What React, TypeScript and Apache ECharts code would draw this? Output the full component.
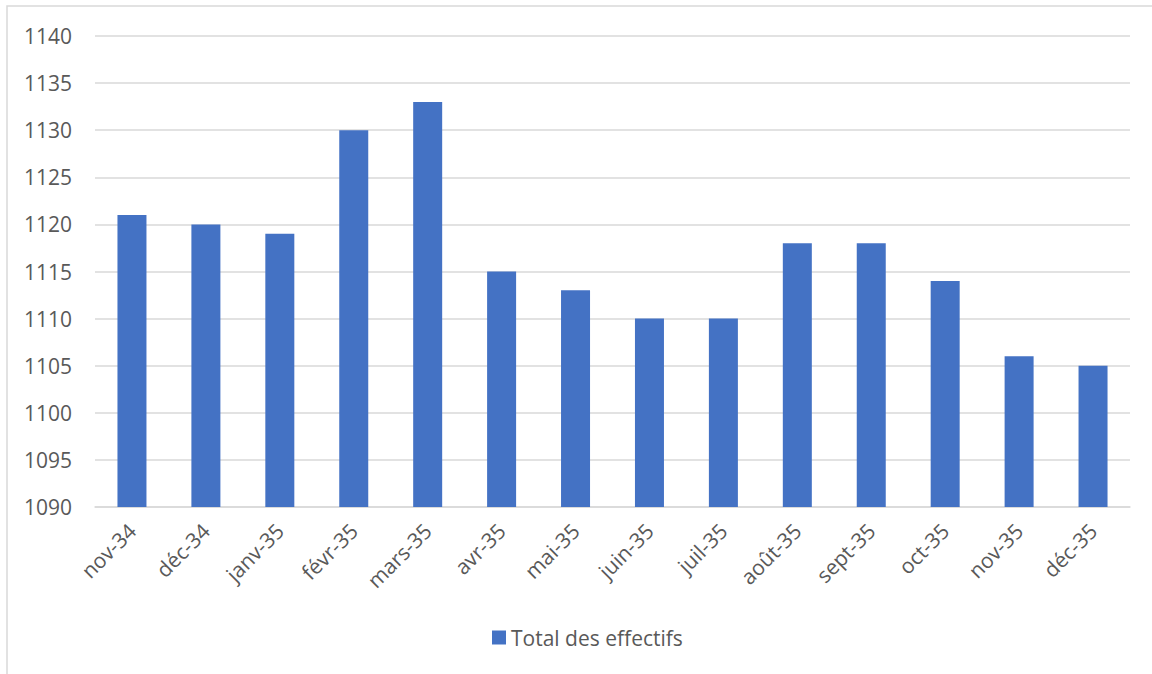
import React, { useEffect, useRef } from "react";
import * as echarts from "echarts";

const categories = ["nov-34", "déc-34", "janv-35", "févr-35", "mars-35", "avr-35", "mai-35", "juin-35", "juil-35", "août-35", "sept-35", "oct-35", "nov-35", "déc-35"];
const totalEffectifs = [1121, 1120, 1119, 1130, 1133, 1115, 1113, 1110, 1110, 1118, 1118, 1114, 1106, 1105];
const seriesName = "Total des effectifs";
const yMin = 1090;
const yMax = 1140;
const yStep = 5;

export default function App() {
  const ref = useRef<HTMLDivElement>(null);
  useEffect(() => {
    document.body.style.margin = "0";
    const chart = echarts.init(ref.current!, null, { renderer: "svg" });
    const font = "'Open Sans', Lato, sans-serif";
    chart.setOption({
      animation: false,
      backgroundColor: "#ffffff",
      textStyle: { fontFamily: font },
      graphic: [
        {
          type: "rect",
          shape: { x: 7, y: 6, width: 1170, height: 700 },
          style: { fill: "none", stroke: "#d9d9d9", lineWidth: 1.5 },
          silent: true,
        },
      ],
      grid: { left: 95, right: 22, top: 36, bottom: 167 },
      legend: {
        data: [seriesName],
        bottom: 21,
        left: 487,
        itemWidth: 14,
        itemHeight: 14,
        itemGap: 6,
        icon: "rect",
        textStyle: { color: "#595959", fontSize: 21, fontFamily: font },
      },
      xAxis: {
        type: "category",
        data: categories,
        axisTick: { show: false },
        axisLine: { lineStyle: { color: "#d9d9d9", width: 1.5 } },
        axisLabel: { rotate: 45, color: "#595959", fontSize: 21, margin: 20, interval: 0 },
      },
      yAxis: {
        type: "value",
        min: yMin,
        max: yMax,
        interval: yStep,
        axisLine: { show: false },
        axisTick: { show: false },
        axisLabel: { color: "#595959", fontSize: 21, margin: 23, formatter: (v: number) => String(v) },
        splitLine: { lineStyle: { color: "#d9d9d9", width: 1.5 } },
      },
      series: [
        {
          name: seriesName,
          type: "bar",
          data: totalEffectifs,
          barWidth: 29,
          itemStyle: { color: "#4472c4" },
        },
      ],
    });
    return () => chart.dispose();
  }, []);
  return <div ref={ref} style={{ width: 1152, height: 674 }} />;
}
